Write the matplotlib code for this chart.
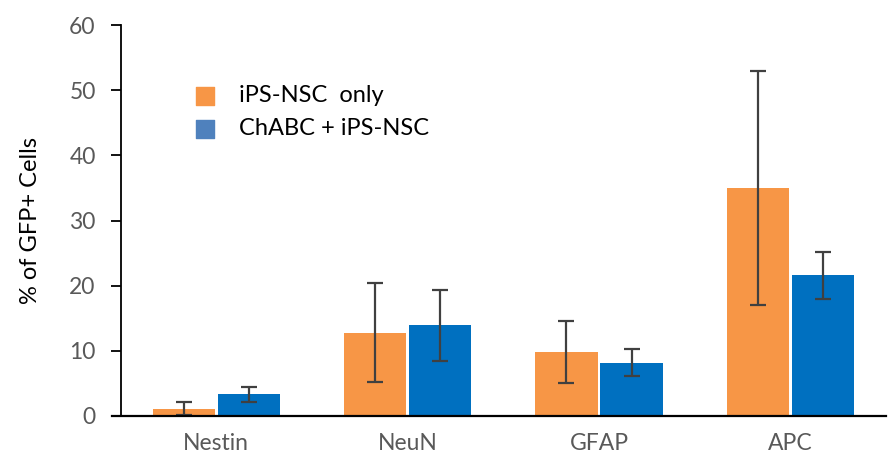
import matplotlib.pyplot as plt
import numpy as np

# data
categories = ["Nestin", "NeuN", "GFAP", "APC"]
ips_only = [1.1, 12.8, 9.8, 35.0]
ips_only_err = [1.0, 7.6, 4.8, 18.0]
chabc_ips = [3.3, 13.9, 8.2, 21.6]
chabc_ips_err = [1.2, 5.5, 2.1, 3.6]
legend_labels = ["iPS-NSC  only", "ChABC + iPS-NSC"]

plt.rcParams['font.family'] = ['Lato', 'DejaVu Sans']

fig = plt.figure(figsize=(8.94, 4.62), dpi=100)
ax = fig.add_axes([0.135, 0.0996, 0.856, 0.846])

x = np.arange(len(categories))
w = 0.325
off = 0.17
err_kw = dict(ecolor="#404040", elinewidth=1.6, capsize=5.5, capthick=1.6)
ax.bar(x - off, ips_only, w, color="#F79646", yerr=ips_only_err, error_kw=err_kw, zorder=2)
ax.bar(x + off, chabc_ips, w, color="#0070C0", yerr=chabc_ips_err, error_kw=err_kw, zorder=2)

ax.set_xlim(-0.5, 3.5)
ax.set_ylim(0, 60)
ax.set_yticks(range(0, 61, 10))
ax.set_xticks(x)
ax.set_xticklabels(categories)
ax.tick_params(axis="x", length=0, pad=12, labelsize=16.5, labelcolor="#595959")
ax.tick_params(axis="y", length=7, width=1.3, pad=11, labelsize=16.5, labelcolor="#595959")
ax.spines["top"].set_visible(False)
ax.spines["right"].set_visible(False)
ax.spines["left"].set_linewidth(1.3)
ax.spines["bottom"].set_linewidth(1.6)
ax.spines["bottom"].set_bounds(-0.545, 3.5)
ax.set_ylabel("% of GFP+ Cells", fontsize=17, color="black", labelpad=20)

# legend placed as a free text block, like the reference
for lab, col in zip(legend_labels, ["#F79646", "#4F81BD"]):
    ax.scatter([], [], marker="s", s=170, color=col, label=lab)
handles, labels = ax.get_legend_handles_labels()
ax.legend(handles, labels, loc="upper left", bbox_to_anchor=(0.0665, 0.9),
          frameon=False, fontsize=17, handlelength=1.0, handletextpad=0.94,
          labelspacing=0.5, scatterpoints=1)

fig.savefig("out.png", dpi=100)
